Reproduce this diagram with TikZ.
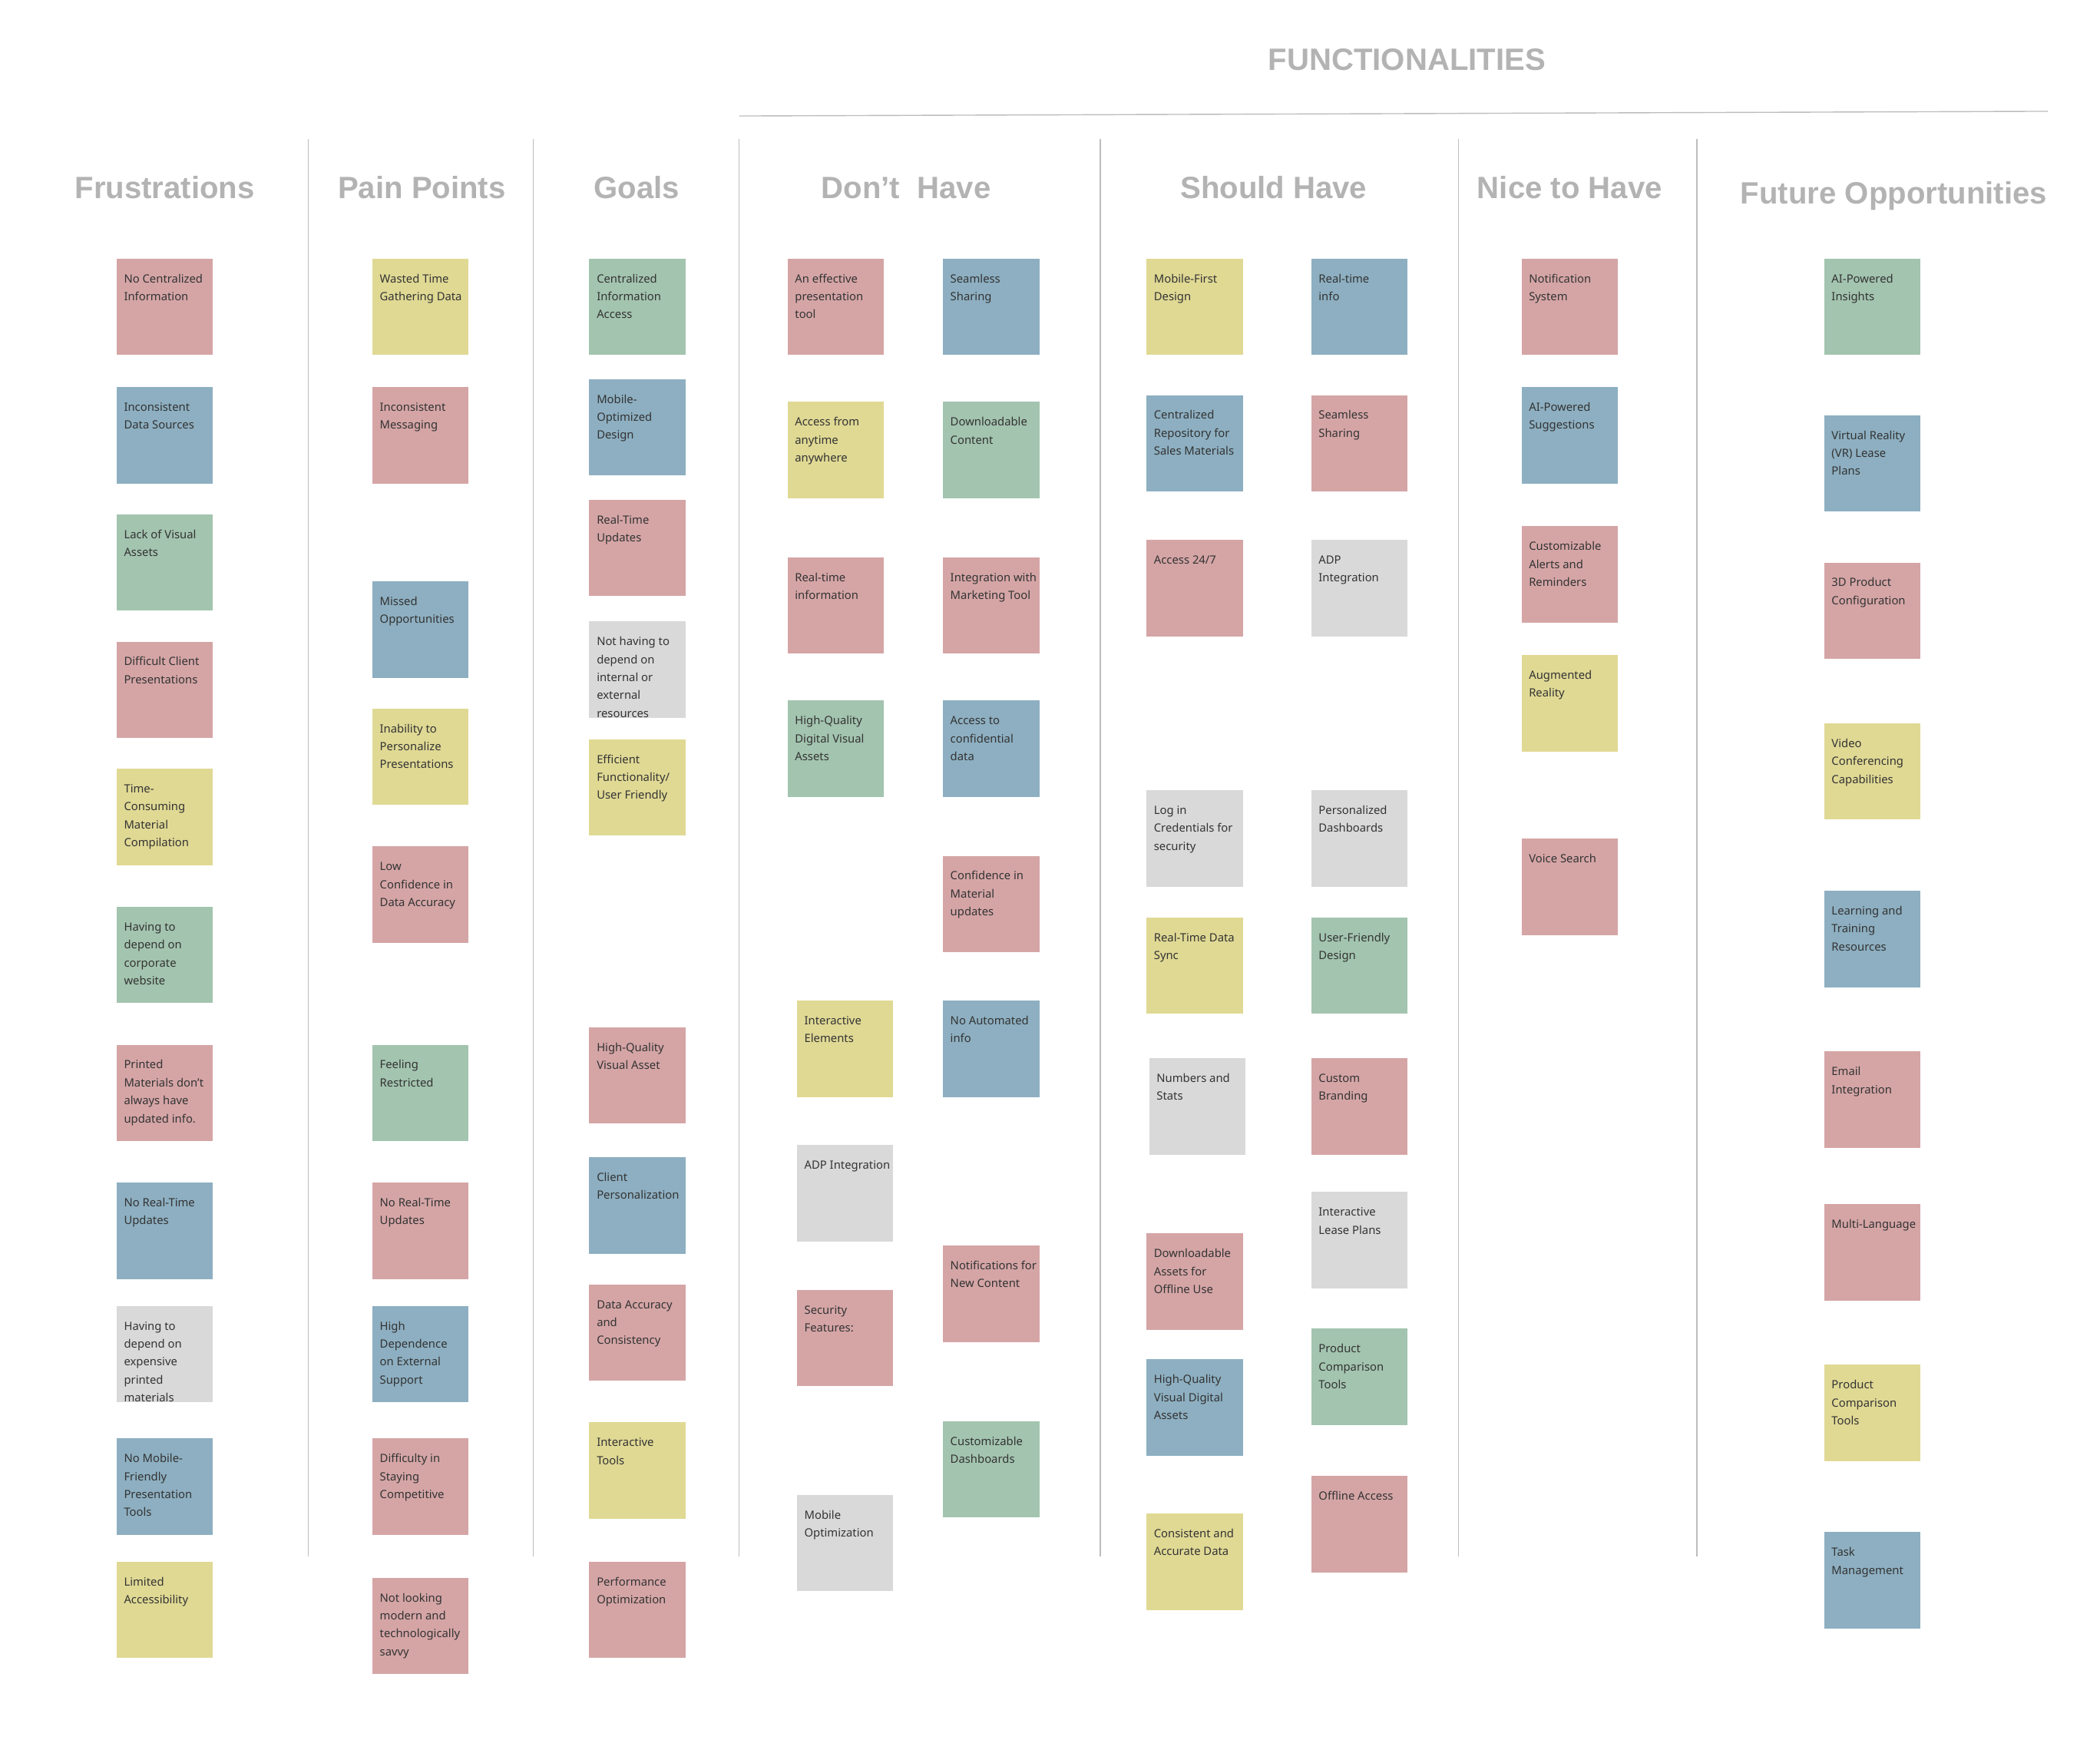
\documentclass[tikz,border=0pt]{standalone}
\usepackage{fontspec}
\newfontfamily\notefont{Noto Sans}
\newfontfamily\headfont{Liberation Sans}
\definecolor{cpink}{HTML}{D5A5A6}
\definecolor{cblue}{HTML}{8DAFC1}
\definecolor{cgreen}{HTML}{A3C4AF}
\definecolor{cyellow}{HTML}{E0D994}
\definecolor{cgray}{HTML}{D9D9D9}
\definecolor{ctext}{HTML}{333333}
\definecolor{chead}{HTML}{B3B3B3}
\definecolor{cline}{HTML}{BDBDBD}
\tikzset{
  sticky/.style={anchor=north west, inner xsep=5.6pt, inner ysep=7pt, outer sep=0pt,
    text=ctext, font=\notefont\fontsize{8.5}{13.4}\selectfont},
  heading/.style={anchor=base, text=chead, inner sep=0pt, font=\headfont\bfseries\fontsize{23}{23}\selectfont},
  sep/.style={draw=cline, line width=0.7pt}
}
\newcommand\sticky[5]{\node[sticky, fill=#4] (#1) at (#2,#3)
  {\makebox[60.8pt][l]{\parbox[t][58pt][t]{110pt}{\raggedright\rule{0pt}{11pt}#5}}};}
\begin{document}
\begin{tikzpicture}[x=1pt,y=-1pt]
\fill[white] (0,0) rectangle (1568,1316);
\useasboundingbox (0,0) rectangle (1568,1316);
% title and rule
\node[heading] (title) at (1050.5,52.2) {FUNCTIONALITIES};
\coordinate (hl1) at (552,86.6);
\coordinate (hl2) at (1529,83.1);
\draw[draw=cline, line width=0.8pt] (hl1) -- (hl2);
% separators
\foreach \i/\x in {1/230,2/398,3/552,4/821.5,5/1089,6/1267}{
  \coordinate (sa\i) at (\x,104);
  \coordinate (sb\i) at (\x,1162);
  \draw[sep] (sa\i) -- (sb\i);
}
% headings
\node[heading] (h1) at (123,148) {Frustrations};
\node[heading] (h2) at (315,148) {Pain Points};
\node[heading] (h3) at (475.5,148) {Goals};
\node[heading] (h4) at (676.5,148) {Don’t~ Have};
\node[heading] (h5) at (951,148) {Should Have};
\node[heading] (h6) at (1172,148) {Nice to Have};
\node[heading] (h7) at (1414,152.5) {Future Opportunities};
% Frustrations
\sticky{f1}{87}{193}{cpink}{No Centralized\\Information}
\sticky{f2}{87}{289}{cblue}{Inconsistent\\Data Sources}
\sticky{f3}{87}{384}{cgreen}{Lack of Visual\\Assets}
\sticky{f4}{87}{479}{cpink}{Difficult Client\\Presentations}
\sticky{f5}{87}{574}{cyellow}{Time-\\Consuming\\Material\\Compilation}
\sticky{f6}{87}{677}{cgreen}{Having to\\depend on\\corporate\\website}
\sticky{f7}{87}{780}{cpink}{Printed\\Materials don’t\\always have\\updated info.}
\sticky{f8}{87}{883}{cblue}{No Real-Time\\Updates}
\sticky{f9}{87}{975}{cgray}{Having to\\depend on\\expensive\\printed\\materials}
\sticky{f10}{87}{1074}{cblue}{No Mobile-\\Friendly\\Presentation\\Tools}
\sticky{f11}{87}{1166}{cyellow}{Limited\\Accessibility}
% Pain points
\sticky{p1}{278}{193}{cyellow}{Wasted Time\\Gathering Data}
\sticky{p2}{278}{289}{cpink}{Inconsistent\\Messaging}
\sticky{p3}{278}{434}{cblue}{Missed\\Opportunities}
\sticky{p4}{278}{529}{cyellow}{Inability to\\Personalize\\Presentations}
\sticky{p5}{278}{632}{cpink}{Low\\Confidence in\\Data Accuracy}
\sticky{p6}{278}{780}{cgreen}{Feeling\\Restricted}
\sticky{p7}{278}{883}{cpink}{No Real-Time\\Updates}
\sticky{p8}{278}{975}{cblue}{High\\Dependence\\on External\\Support}
\sticky{p9}{278}{1074}{cpink}{Difficulty in\\Staying\\Competitive}
\sticky{p10}{278}{1178}{cpink}{Not looking\\modern and\\technologically\\savvy}
% Goals
\sticky{g1}{440}{193}{cgreen}{Centralized\\Information\\Access}
\sticky{g2}{440}{283}{cblue}{Mobile-\\Optimized\\Design}
\sticky{g3}{440}{373}{cpink}{Real-Time\\Updates}
\sticky{g4}{440}{464}{cgray}{Not having to\\depend on\\internal or\\external\\resources}
\sticky{g5}{440}{552}{cyellow}{Efficient\\Functionality/\\User Friendly}
\sticky{g6}{440}{767}{cpink}{High-Quality\\Visual Asset}
\sticky{g7}{440}{864}{cblue}{Client\\Personalization}
\sticky{g8}{440}{959}{cpink}{Data Accuracy\\and\\Consistency}
\sticky{g9}{440}{1062}{cyellow}{Interactive\\Tools}
\sticky{g10}{440}{1166}{cpink}{Performance\\Optimization}
% Don't have
\sticky{d1}{588}{193}{cpink}{An effective\\presentation\\tool}
\sticky{d2}{588}{300}{cyellow}{Access from\\anytime\\anywhere}
\sticky{d3}{588}{416}{cpink}{Real-time\\information}
\sticky{d4}{588}{523}{cgreen}{High-Quality\\Digital Visual\\Assets}
\sticky{d5}{595}{747}{cyellow}{Interactive\\Elements}
\sticky{d6}{595}{855}{cgray}{ADP Integration}
\sticky{d7}{595}{963}{cpink}{Security\\Features:}
\sticky{d8}{595}{1116}{cgray}{Mobile\\Optimization}
\sticky{e1}{704}{193}{cblue}{Seamless\\Sharing}
\sticky{e2}{704}{300}{cgreen}{Downloadable\\Content}
\sticky{e3}{704}{416}{cpink}{Integration with\\Marketing Tool}
\sticky{e4}{704}{523}{cblue}{Access to\\confidential\\data}
\sticky{e5}{704}{639}{cpink}{Confidence in\\Material\\updates}
\sticky{e6}{704}{747}{cblue}{No Automated\\info}
\sticky{e7}{704}{930}{cpink}{Notifications for\\New Content}
\sticky{e8}{704}{1061}{cgreen}{Customizable\\Dashboards}
% Should have
\sticky{s1}{856}{193}{cyellow}{Mobile-First\\Design}
\sticky{s2}{856}{295}{cblue}{Centralized\\Repository for\\Sales Materials}
\sticky{s3}{856}{403}{cpink}{Access 24/7}
\sticky{s4}{856}{590}{cgray}{Log in\\Credentials for\\security}
\sticky{s5}{856}{685}{cyellow}{Real-Time Data\\Sync}
\sticky{s6}{858}{790}{cgray}{Numbers and\\Stats}
\sticky{s7}{856}{921}{cpink}{Downloadable\\Assets for\\Offline Use}
\sticky{s8}{856}{1015}{cblue}{High-Quality\\Visual Digital\\Assets}
\sticky{s9}{856}{1130}{cyellow}{Consistent and\\Accurate Data}
\sticky{t1}{979}{193}{cblue}{Real-time\\info}
\sticky{t2}{979}{295}{cpink}{Seamless\\Sharing}
\sticky{t3}{979}{403}{cgray}{ADP\\Integration}
\sticky{t4}{979}{590}{cgray}{Personalized\\Dashboards}
\sticky{t5}{979}{685}{cgreen}{User-Friendly\\Design}
\sticky{t6}{979}{790}{cpink}{Custom\\Branding}
\sticky{t7}{979}{890}{cgray}{Interactive\\Lease Plans}
\sticky{t8}{979}{992}{cgreen}{Product\\Comparison\\Tools}
\sticky{t9}{979}{1102}{cpink}{Offline Access}
% Nice to have
\sticky{n1}{1136}{193}{cpink}{Notification\\System}
\sticky{n2}{1136}{289}{cblue}{AI-Powered\\Suggestions}
\sticky{n3}{1136}{393}{cpink}{Customizable\\Alerts and\\Reminders}
\sticky{n4}{1136}{489}{cyellow}{Augmented\\Reality}
\sticky{n5}{1136}{626}{cpink}{Voice Search}
% Future opportunities
\sticky{u1}{1362}{193}{cgreen}{AI-Powered\\Insights}
\sticky{u2}{1362}{310}{cblue}{Virtual Reality\\(VR) Lease\\Plans}
\sticky{u3}{1362}{420}{cpink}{3D Product\\Configuration}
\sticky{u4}{1362}{540}{cyellow}{Video\\Conferencing\\Capabilities}
\sticky{u5}{1362}{665}{cblue}{Learning and\\Training\\Resources}
\sticky{u6}{1362}{785}{cpink}{Email\\Integration}
\sticky{u7}{1362}{899}{cpink}{Multi-Language}
\sticky{u8}{1362}{1019}{cyellow}{Product\\Comparison\\Tools}
\sticky{u9}{1362}{1144}{cblue}{Task\\Management}
\end{tikzpicture}
\end{document}
